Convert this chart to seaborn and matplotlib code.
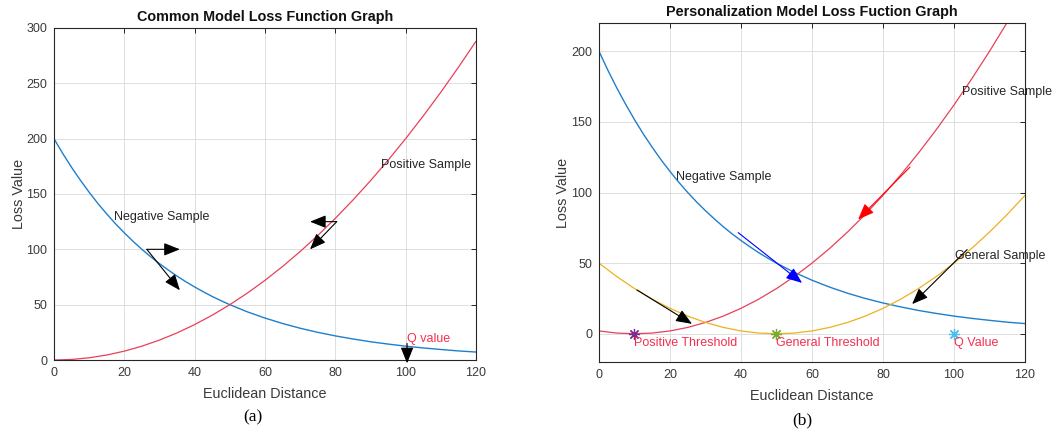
import matplotlib
matplotlib.use("Agg")
import matplotlib.pyplot as plt
import seaborn as sns
import pandas as pd

distance = [0, 5, 10, 15, 20, 25, 30, 35, 40, 45, 50, 55, 60,
            65, 70, 75, 80, 85, 90, 95, 100, 105, 110, 115, 120]

# loss curves
positive_loss_a = [0, 0.5, 2, 4.5, 8, 12.5, 18, 24.5, 32, 40.5, 50, 60.5, 72,
                   84.5, 98, 112.5, 128, 144.5, 162, 180.5, 200, 220.5, 242, 264.5, 288]
positive_loss_b = [2, 0.5, 0, 0.5, 2, 4.5, 8, 12.5, 18, 24.5, 32, 40.5, 50,
                   60.5, 72, 84.5, 98, 112.5, 128, 144.5, 162, 180.5, 200, 220.5, 242]
general_loss = [50, 40.5, 32, 24.5, 18, 12.5, 8, 4.5, 2, 0.5, 0, 0.5, 2,
                4.5, 8, 12.5, 18, 24.5, 32, 40.5, 50, 60.5, 72, 84.5, 98]

# the negative curve is steep near 0, so it is read on a finer grid
negative_distance = [0, 2.5, 5, 7.5, 10, 12.5, 15, 17.5, 20, 22.5, 25, 27.5, 30,
                     32.5, 35, 37.5, 40, 42.5, 45, 47.5, 50, 55, 60, 65, 70,
                     75, 80, 85, 90, 95, 100, 105, 110, 115, 120]
negative_loss = [200, 186.6, 174.1, 162.5, 151.6, 141.4, 132, 123.1, 114.9, 107.2,
                 100, 93.3, 87.1, 81.3, 75.8, 70.7, 66, 61.6, 57.4, 53.6, 50,
                 43.5, 37.9, 33, 28.7, 25, 21.8, 19, 16.5, 14.4, 12.5, 10.9,
                 9.5, 8.2, 7.2]

# threshold markers in panel (b)
threshold_names = ["Positive Threshold", "General Threshold", "Q Value"]
threshold_x = [10, 50, 100]
threshold_colors = ["#7E2F8E", "#77AC30", "#4DBEEE"]

NEG_COLOR = "#1f7fcc"
POS_COLOR = "#e8405a"
GEN_COLOR = "#EDB120"
RED_TEXT = "#f5304f"
TEXT = "#262626"

df_neg = pd.DataFrame({"d": negative_distance, "neg": negative_loss})
df_a = pd.DataFrame({"d": distance, "pos": positive_loss_a})
df_b = pd.DataFrame({"d": distance, "pos": positive_loss_b, "gen": general_loss})

sns.set_theme(style="whitegrid")
plt.rcParams["font.family"] = ["Liberation Sans", "DejaVu Sans"]

fig = plt.figure(figsize=(10.54, 4.36), dpi=100)
ax_a = fig.add_axes([0.0512, 0.1743, 0.4004, 0.7615])
ax_b = fig.add_axes([0.5683, 0.1697, 0.4042, 0.7775])


def style_axes(ax, title, ypad):
    ax.set_facecolor("white")
    ax.grid(True, color="#dedede", linewidth=0.7)
    for spine in ax.spines.values():
        spine.set_visible(True)
        spine.set_color(TEXT)
        spine.set_linewidth(0.8)
    ax.tick_params(direction="in", length=3.5, width=0.7, top=True, right=True,
                   labelsize=9, colors=TEXT, labelcolor="#3a3a3a", pad=5)
    ax.set_title(title, fontsize=10.4, fontweight="bold", color="#111111", pad=5)
    ax.set_xlabel("Euclidean Distance", fontsize=10.4, color="#3a3a3a", labelpad=6)
    ax.set_ylabel("Loss Value", fontsize=10.4, color="#3a3a3a", labelpad=ypad)
    ax.set_xlim(0, 120)
    ax.set_xticks(range(0, 121, 20))


def arrow(ax, tail, head, color="black"):
    ax.annotate("", xy=head, xytext=tail, annotation_clip=False,
                arrowprops=dict(arrowstyle="-|>,head_length=0.7,head_width=0.28",
                                color=color, lw=0.8, shrinkA=0, shrinkB=0,
                                mutation_scale=14))


# ---- panel (a)
sns.lineplot(data=df_neg, x="d", y="neg", ax=ax_a, color=NEG_COLOR, linewidth=1.0)
sns.lineplot(data=df_a, x="d", y="pos", ax=ax_a, color=POS_COLOR, linewidth=0.9)
style_axes(ax_a, "Common Model Loss Function Graph", 0)
ax_a.set_ylim(0, 300)
ax_a.set_yticks(range(0, 301, 50))
ax_a.text(17, 129, "Negative Sample", fontsize=9, color=TEXT, va="center")
ax_a.text(93, 176, "Positive Sample", fontsize=9, color=TEXT, va="center")
ax_a.text(100.3, 19, "Q value", fontsize=9, color=RED_TEXT, va="center")
arrow(ax_a, (26.4, 100), (35.8, 100))
arrow(ax_a, (26.4, 100), (35.8, 63))
arrow(ax_a, (80.4, 125), (72.8, 125))
arrow(ax_a, (80.4, 125), (72.8, 100))
arrow(ax_a, (100.4, 15), (100.4, -3))

# ---- panel (b)
sns.lineplot(data=df_neg, x="d", y="neg", ax=ax_b, color=NEG_COLOR, linewidth=1.0)
sns.lineplot(data=df_b, x="d", y="pos", ax=ax_b, color=POS_COLOR, linewidth=0.9)
sns.lineplot(data=df_b, x="d", y="gen", ax=ax_b, color=GEN_COLOR, linewidth=0.9)
style_axes(ax_b, "Personalization Model Loss Fuction Graph", 1)
ax_b.set_ylim(-20, 220)
ax_b.set_yticks(range(0, 201, 50))
for name, xv, col in zip(threshold_names, threshold_x, threshold_colors):
    ax_b.plot([xv], [0], linestyle="none", marker=(8, 2, 0), markersize=8,
              markeredgecolor=col, markeredgewidth=0.9)
    ax_b.text(xv, -6.5, name, fontsize=9, color=RED_TEXT, va="center", ha="left")
ax_b.text(21.7, 111, "Negative Sample", fontsize=9, color=TEXT, va="center")
ax_b.text(102.3, 171, "Positive Sample", fontsize=9, color=TEXT, va="center",
          clip_on=False)
ax_b.text(100.3, 55, "General Sample", fontsize=9, color=TEXT, va="center")
arrow(ax_b, (87.6, 118), (73, 81), color="red")
arrow(ax_b, (39.2, 71.6), (57.2, 36), color="blue")
arrow(ax_b, (10.7, 31), (26.2, 7))
arrow(ax_b, (103.7, 59.6), (88.2, 21))

# captions
fig.text(0.240, 0.043, "(a)", fontsize=12.5, family="Liberation Serif",
         color="black", ha="center", va="center")
fig.text(0.761, 0.036, "(b)", fontsize=12.5, family="Liberation Serif",
         color="black", ha="center", va="center")

fig.savefig("out.png", dpi=100, facecolor="white")
